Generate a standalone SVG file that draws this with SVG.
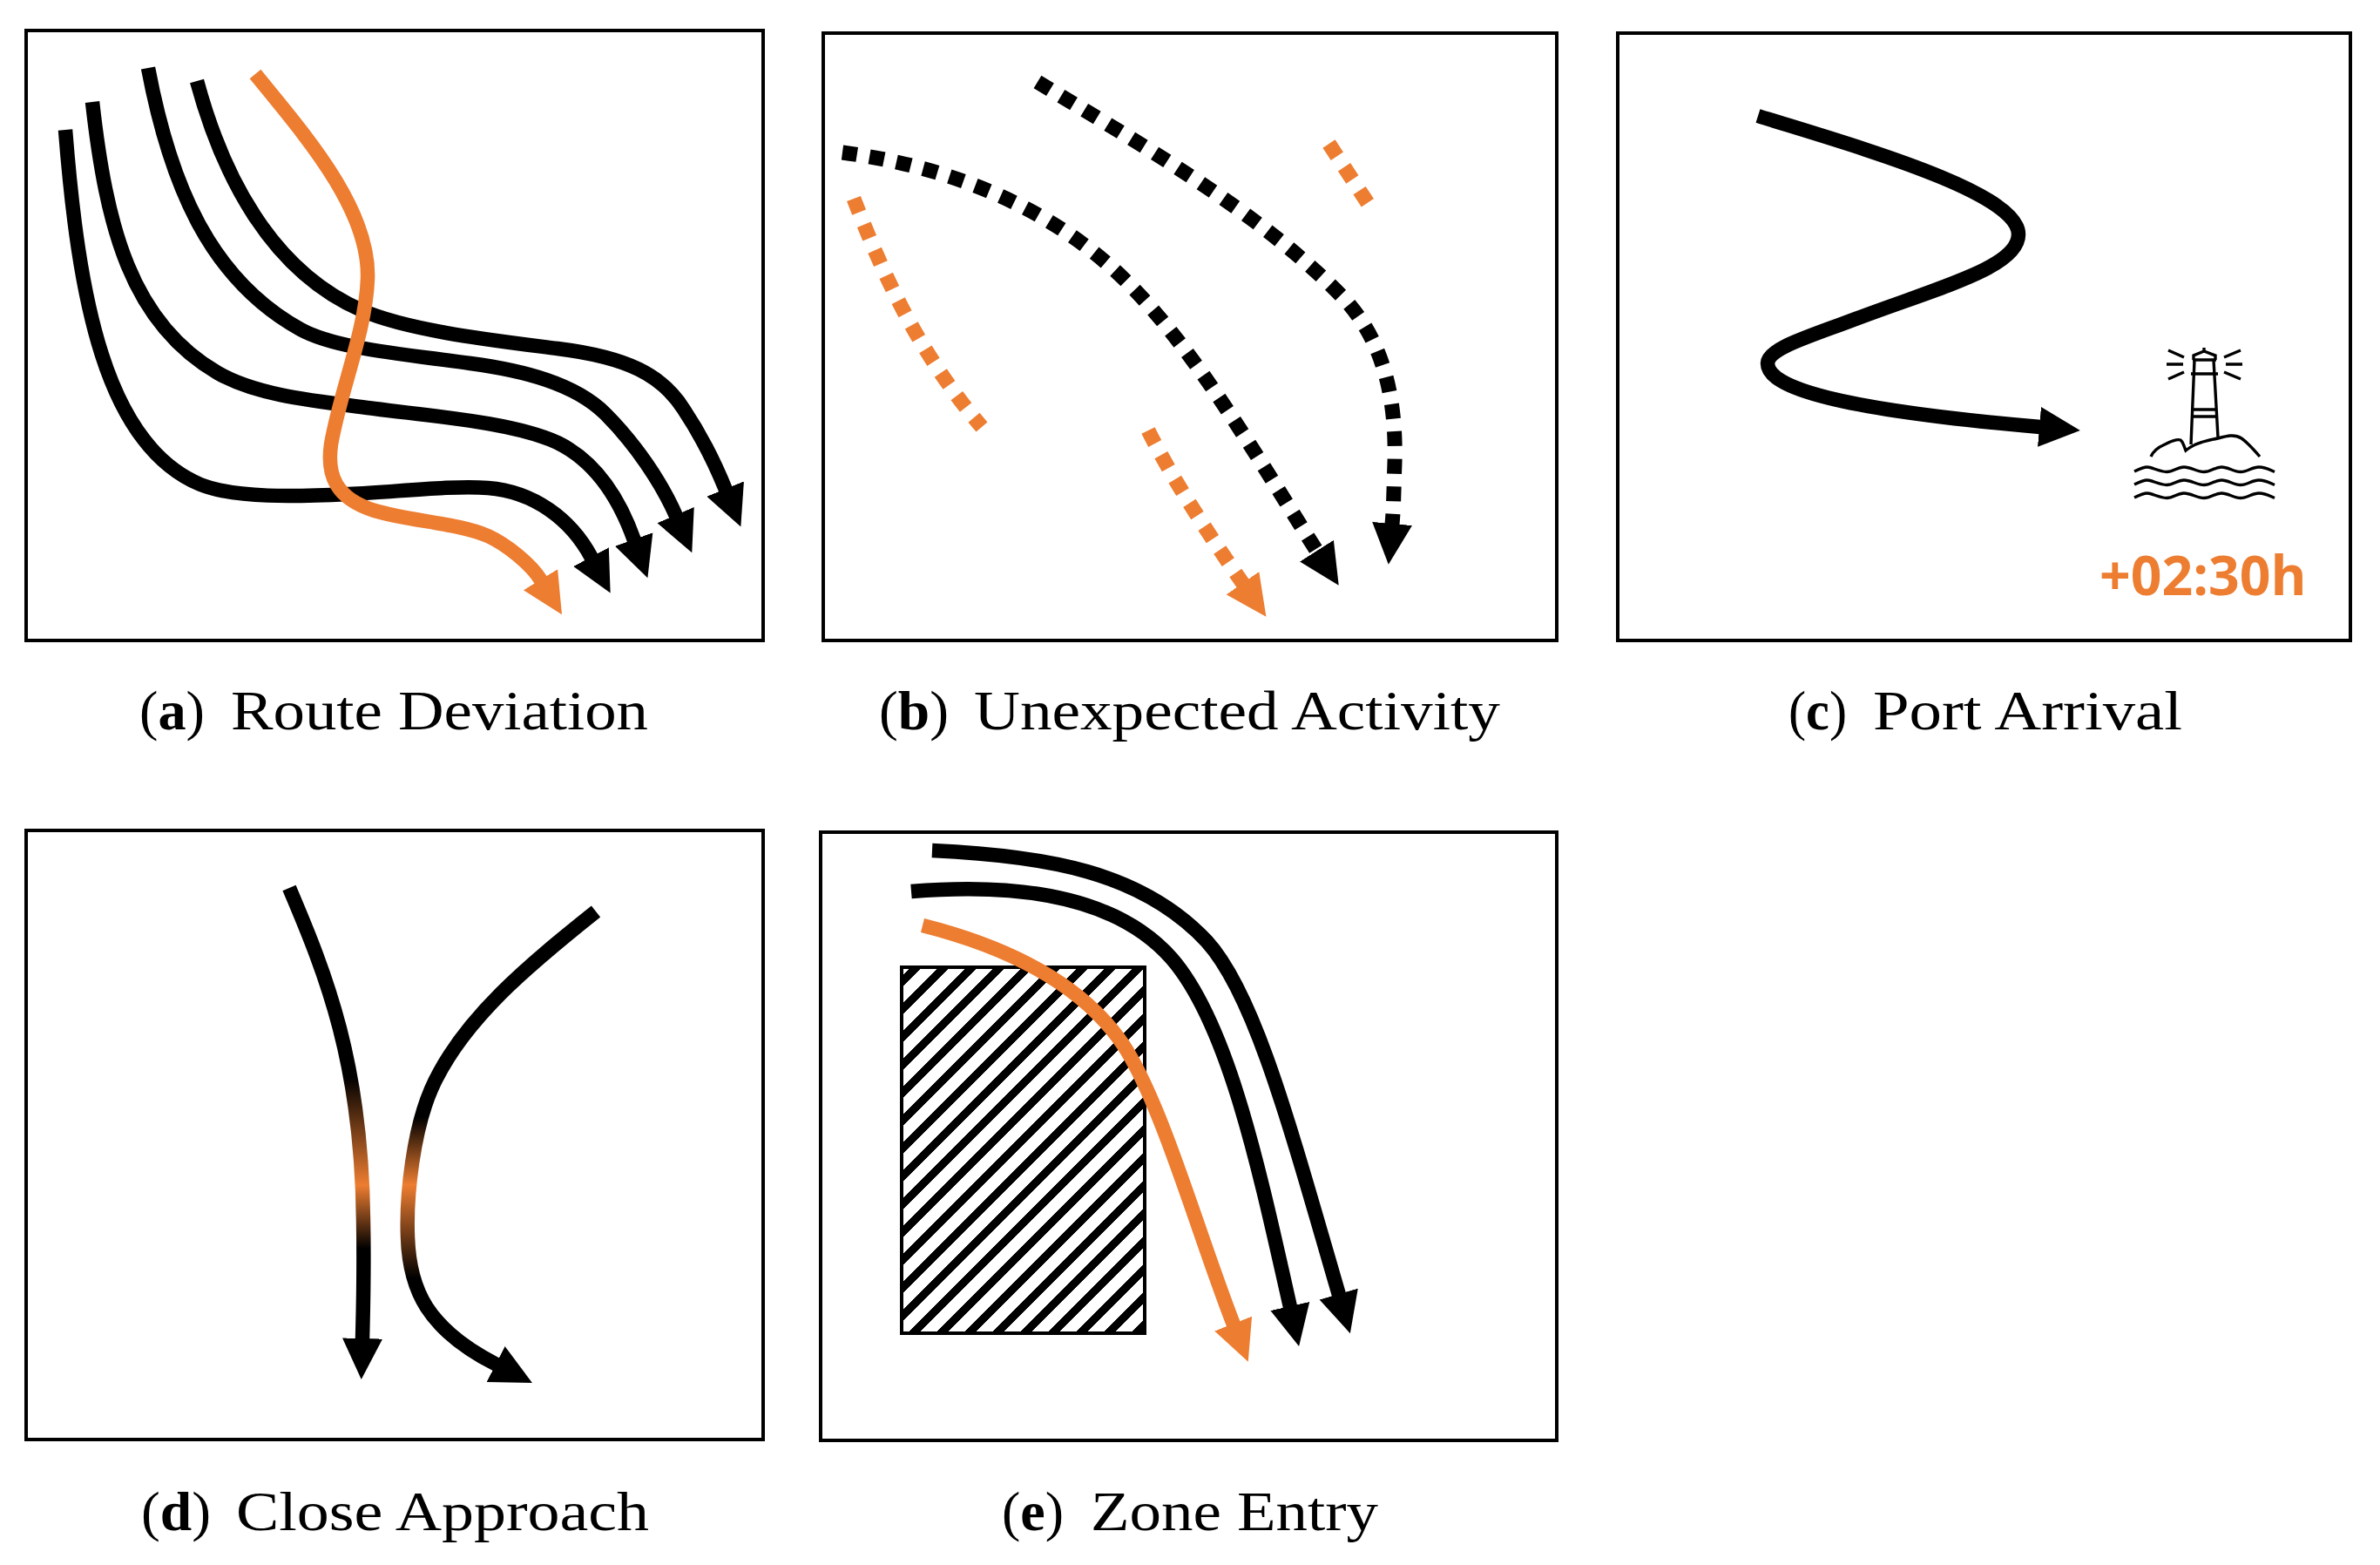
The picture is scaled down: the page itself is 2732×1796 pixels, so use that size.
<svg xmlns="http://www.w3.org/2000/svg" width="2732" height="1796" viewBox="0 0 2732 1796">
<style>
.frame{fill:#fff;stroke:#000;stroke-width:4}
.cap{font-family:"Liberation Serif","DejaVu Serif",serif;font-size:63px;fill:#000}
.cap .b{font-weight:700}
.r{fill:none;stroke-width:16.5;stroke-linecap:butt}
.k{stroke:#000}
.o{stroke:#ED7D31}
.ak{marker-end:url(#headK)}
.ao{marker-end:url(#headO)}
.dk{fill:none;stroke:#000;stroke-width:17;stroke-dasharray:17 14.5}
.do{fill:none;stroke:#ED7D31;stroke-width:17;stroke-dasharray:17 15}
.ic{fill:none;stroke:#000;stroke-width:3.4}
</style>
<defs>
<marker id="headK" markerUnits="userSpaceOnUse" markerWidth="50" markerHeight="48" refX="1" refY="23.5" orient="auto"><path d="M0 0.5L47 23.5L0 46.5z" fill="#000"/></marker>
<marker id="headO" markerUnits="userSpaceOnUse" markerWidth="50" markerHeight="48" refX="1" refY="23.5" orient="auto"><path d="M0 0.5L47 23.5L0 46.5z" fill="#ED7D31"/></marker>
<linearGradient id="gL" gradientUnits="userSpaceOnUse" x1="0" y1="1236" x2="0" y2="1433"><stop offset="0" stop-color="#000"/><stop offset=".63" stop-color="#ED7D31"/><stop offset="1" stop-color="#000"/></linearGradient>
<linearGradient id="gR" gradientUnits="userSpaceOnUse" x1="0" y1="1282" x2="0" y2="1467"><stop offset="0" stop-color="#000"/><stop offset=".42" stop-color="#ED7D31"/><stop offset="1" stop-color="#000"/></linearGradient>
<pattern id="hatch" patternUnits="userSpaceOnUse" x="18" y="0" width="32" height="32">
<rect width="32" height="32" fill="#fff"/>
<path d="M-8 8L8 -8M-8 40L40 -8M24 40L40 24" stroke="#000" stroke-width="9.5" shape-rendering="crispEdges"/>
</pattern>
<path id="wave" d="M2450 541C2456 538 2460 536 2465 536S2479 541.5 2487 541.5S2499 536 2507 536S2522 541.5 2530 541.5S2542 536 2550 536S2564 541.5 2572 541.5S2585 536 2593 536S2605 539 2611 541.5"/>
</defs>
<rect width="2732" height="1796" fill="#fff"/>

<g id="panel-a">
<rect class="frame" x="30" y="35" width="846" height="700"/>
<text class="cap" y="837"><tspan x="160" textLength="75" lengthAdjust="spacingAndGlyphs">(<tspan class="b">a</tspan>)</tspan> <tspan x="265" textLength="479" lengthAdjust="spacingAndGlyphs">Route Deviation</tspan></text>
</g>
<g id="panel-b">
<rect class="frame" x="945" y="38" width="842" height="697"/>
<text class="cap" y="837"><tspan x="1009" textLength="80" lengthAdjust="spacingAndGlyphs">(<tspan class="b">b</tspan>)</tspan> <tspan x="1118" textLength="604" lengthAdjust="spacingAndGlyphs">Unexpected Activity</tspan></text>
</g>
<g id="panel-c">
<rect class="frame" x="1857" y="38" width="841" height="697"/>
<g id="lighthouse" class="ic">
<path d="M2519 413L2515 510M2541 413L2546 502M2517 413H2544M2518 413V408L2530 403L2543 408V413M2530 399V403M2515 429H2546M2517 470H2543M2517 478H2544"/>
<path d="M2489 402L2507 410M2487 418H2506M2489 435L2507 427M2572 402L2553 410M2574 418H2555M2572 435L2553 427"/>
<path d="M2469 524C2472 517 2478 513 2485 510C2493 506 2500 504 2503 505C2506 507 2507 512 2509 517C2517 510 2527 507 2546 503C2557 500 2565 498 2573 503C2580 508 2588 517 2594 524"/>
<use href="#wave"/><use href="#wave" y="15"/><use href="#wave" y="30"/>
</g>
<text x="2410" y="683" font-family="'Open Sans','Noto Sans',sans-serif" font-weight="700" font-size="62.5" fill="#ED7D31">+02:30h</text>
<text class="cap" y="837"><tspan x="2053" textLength="67" lengthAdjust="spacingAndGlyphs">(<tspan class="b">c</tspan>)</tspan> <tspan x="2150" textLength="355" lengthAdjust="spacingAndGlyphs">Port Arrival</tspan></text>
</g>
<g id="panel-d">
<rect class="frame" x="30" y="953" width="846" height="699"/>
<text class="cap" y="1756"><tspan x="162" textLength="80" lengthAdjust="spacingAndGlyphs">(<tspan class="b">d</tspan>)</tspan> <tspan x="271" textLength="474" lengthAdjust="spacingAndGlyphs">Close Approach</tspan></text>
</g>
<g id="panel-e">
<rect class="frame" x="942" y="955" width="845" height="698"/>
<rect id="zone" x="1035" y="1110" width="279" height="420" fill="url(#hatch)" stroke="#000" stroke-width="4"/>
<text class="cap" y="1756"><tspan x="1150" textLength="71" lengthAdjust="spacingAndGlyphs">(<tspan class="b">e</tspan>)</tspan> <tspan x="1252" textLength="330" lengthAdjust="spacingAndGlyphs">Zone Entry</tspan></text>
</g>

<g id="connectors">
<g id="conn-a">
<path class="r k ak" d="M75 149C90 340 120 510 230 556C270 572 340 570 400 567C460 564 520 557 560 560C612 564 655 595 679 640"/>
<path class="r k ak" d="M106 117C122 260 150 370 250 428C295 454 360 460 430 469C500 478 590 485 640 508C685 530 712 575 728 620"/>
<path class="r k ak" d="M170 78C195 210 240 320 345 378C385 400 460 406 540 417C600 425 660 440 695 475C730 510 760 555 776 592"/>
<path class="r k ak" d="M226 93C255 200 310 310 415 356C470 380 570 391 640 400C720 410 760 430 785 470C805 500 822 535 833 562"/>
<path class="r o ao" d="M293 85C350 155 425 240 422 320C420 380 390 450 380 510C375 545 385 572 430 586C470 598 525 600 560 615C582 625 610 648 621 666"/>
</g>
<g id="conn-b">
<path class="dk ak" d="M1191 94C1300 160 1450 245 1545 345C1585 390 1603 450 1601 530C1600 555 1600 580 1598 602"/>
<path class="dk ak" d="M967 175C1080 190 1200 232 1290 320C1370 398 1440 520 1512 633"/>
<path class="do" d="M980 228C1010 305 1050 400 1127 490"/>
<path class="do ao" d="M1318 494C1345 548 1385 610 1427 670"/>
<path class="do" d="M1525.5 165L1570 233"/>
</g>
<g id="conn-c">
<path class="r k ak" d="M2018 133C2130 168 2317 220 2317 269C2317 307 2225 330 2130 366C2075 387 2029 400 2029 417C2029 445 2110 470 2342 490"/>
</g>
<g id="conn-d">
<path class="r ak" stroke="url(#gL)" d="M332 1019C375 1120 415 1220 417 1400C418 1450 417 1500 416 1537"/>
<path class="r ak" stroke="url(#gR)" d="M684 1046C610 1105 530 1170 495 1250C475 1296 466 1370 468 1420C470 1480 490 1525 570 1566"/>
</g>
<g id="conn-e">
<path class="r k ak" d="M1070 976C1200 982 1310 1000 1385 1080C1440 1140 1480 1290 1537 1486"/>
<path class="r k ak" d="M1046 1023C1130 1016 1270 1015 1345 1100C1410 1175 1445 1340 1481 1500"/>
<path class="r o ao" d="M1059 1062C1150 1085 1240 1125 1290 1200C1335 1270 1375 1415 1416 1520"/>
</g>
</g>
</svg>
